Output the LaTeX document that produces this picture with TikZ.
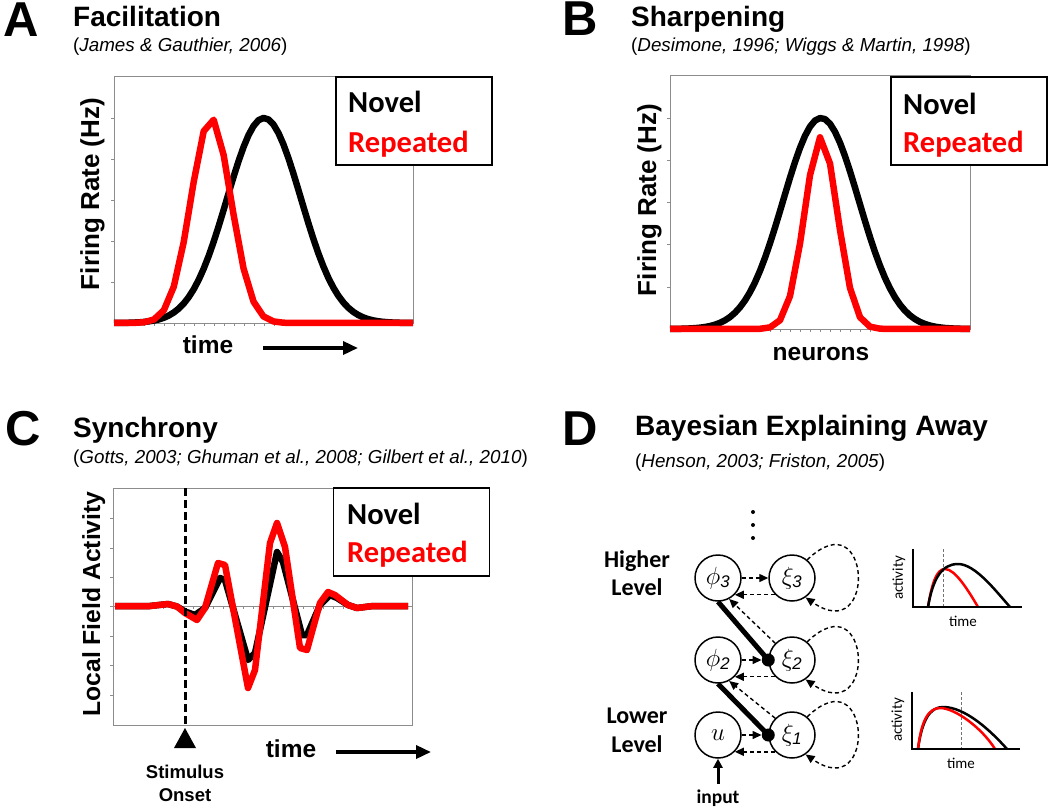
\documentclass[tikz,border=0pt]{standalone}
\usepackage{fontspec}
\setmainfont{Liberation Sans}
\newfontfamily\calibri{Carlito}
\usetikzlibrary{arrows.meta}

\tikzstyle{panelletter} = [anchor=base west, inner sep=0,
font=\fontsize{49}{49}\selectfont\bfseries]
\tikzstyle{paneltitle} = [anchor=base west, inner sep=0,
font=\fontsize{28}{28}\selectfont\bfseries]
\tikzstyle{citation} = [anchor=base west, inner sep=0,
font=\fontsize{18.8}{18.8}\selectfont]
\tikzstyle{axislabel} = [anchor=base, inner sep=0, rotate=90,
font=\fontsize{26}{26}\selectfont\bfseries]
\tikzstyle{xlabel} = [anchor=base, inner sep=0,
font=\fontsize{24.5}{24.5}\selectfont\bfseries]
\tikzstyle{onsetlabel} = [anchor=base, inner sep=0,
font=\fontsize{18.5}{18.5}\selectfont\bfseries]
\tikzstyle{frame} = [draw=black!45, line width=1]
\tikzstyle{tick} = [draw=black!45, line width=0.8]
\tikzstyle{legbox} = [rectangle, draw=black, line width=1.6, fill=white,
minimum width=156, minimum height=88, inner sep=0]
\tikzstyle{legtext} = [anchor=base west, inner sep=0,
font=\calibri\fontsize{30.5}{30.5}\selectfont\bfseries]
\tikzstyle{novelline} = [line width=6.5, black, line join=round]
\tikzstyle{repline} = [line width=6.5, red, line join=round]
\tikzstyle{timearrow} = [line width=3.5, -{Triangle[length=15, width=13]}]
\tikzstyle{onsetline} = [line width=3, dash pattern=on 8 off 4]
% panel D
\tikzstyle{unit} = [circle, draw, line width=1.5, minimum size=46, inner sep=0,
font=\fontsize{24}{24}\selectfont]
\tikzstyle{junction} = [circle, fill, inner sep=0, minimum size=13]
\tikzstyle{msg} = [line width=1.4, dash pattern=on 4 off 3,
-{Triangle[length=9, width=8]}]
\tikzstyle{pred} = [line width=5]
\tikzstyle{inarrow} = [line width=3, -{Triangle[length=9, width=9]}]
\tikzstyle{levellabel} = [anchor=base, inner sep=0,
font=\calibri\fontsize{24}{24}\selectfont\bfseries]
\tikzstyle{smallaxis} = [line width=2.5]
\tikzstyle{marker} = [line width=1, black!55, dash pattern=on 3 off 2]
\tikzstyle{smallcurve} = [line width=2.5]
\tikzstyle{minilabel} = [inner sep=0, font=\calibri\fontsize{15}{15}\selectfont]

\begin{document}
\begin{tikzpicture}[x=1pt, y=-1pt]
\useasboundingbox (0,0) rectangle (1050,808);

% A: facilitation
\node (letA) [panelletter] at (3,37) {A};
\node (titA) [paneltitle] at (73,27) {Facilitation};
\node (citA) [citation] at (73,52) {(\textit{James \& Gauthier, 2006})};
\draw [frame] (114,77) rectangle (413,323);
\foreach \ty in {118,159,200,241,282} \draw [tick] (111,\ty) -- (114,\ty);
\foreach \tx in {124,134,...,404} \draw [tick] (\tx,323) -- (\tx,326);
\draw [novelline] plot [domain=114:413, samples=61]
  (\x, {323-205*exp(-((\x-264)/37)*((\x-264)/37)/2)});
\draw [repline] plot [domain=114:413, samples=31]
  (\x, {323-205*exp(-min(12,((\x-211)/20)*((\x-211)/20)/2))});
\node (legA) [legbox] at (414,121) {};
\node (novA) [legtext] at (348,113) {Novel};
\node (repA) [legtext, text=red] at (348,152) {Repeated};
\node (ylabA) [axislabel] at (99,194) {Firing Rate (Hz)};
\node (timeA) [xlabel] at (208,353) {time};
\coordinate (tA1) at (263,348);
\coordinate (tA2) at (358,348);
\draw [timearrow] (tA1) -- (tA2);

% B: sharpening
\node (letB) [panelletter] at (562,36) {B};
\node (titB) [paneltitle] at (631,27) {Sharpening};
\node (citB) [citation] at (631,52) {(\textit{Desimone, 1996; Wiggs \& Martin, 1998})};
\draw [frame] (670,76) rectangle (970,329);
\foreach \ty in {118,160,202,244,287} \draw [tick] (667,\ty) -- (670,\ty);
\foreach \tx in {680,690,...,960} \draw [tick] (\tx,329) -- (\tx,332);
\draw [novelline] plot [domain=670:970, samples=61]
  (\x, {329-211*exp(-((\x-821)/38)*((\x-821)/38)/2)});
\draw [repline] plot [domain=670:970, samples=31]
  (\x, {329-192*exp(-min(12,((\x-821)/16.5)*((\x-821)/16.5)/2))});
\node (legB) [legbox] at (969,121) {};
\node (novB) [legtext] at (903,114) {Novel};
\node (repB) [legtext, text=red] at (903,152) {Repeated};
\node (ylabB) [axislabel] at (656,200) {Firing Rate (Hz)};
\node (neurB) [xlabel] at (821,360) {neurons};

% C: synchrony
\node (letC) [panelletter] at (5,445) {C};
\node (titC) [paneltitle] at (73,437) {Synchrony};
\node (citC) [citation] at (73,463) {(\textit{Gotts, 2003; Ghuman et al., 2008; Gilbert et al., 2010})};
\draw [frame] (113,488) rectangle (412,725);
\draw [tick] (113,606) -- (412,606);
\foreach \ty in {518,548,577,606,636,665,695} \draw [tick] (110,\ty) -- (113,\ty);
\foreach \tx in {123,133,...,403} \draw [tick] (\tx,606) -- (\tx,609);
\draw [novelline] plot coordinates {(115,606) (150,606) (168,604) (177,606.5)
  (185,611.5) (195,615) (205,608) (220,578) (225,580) (248,660) (255,653)
  (277,552) (283,562) (302,635) (307,635) (320,605) (330,595) (337,598)
  (348,605) (357,608) (373,606) (408,606)};
\draw [repline] plot coordinates {(115,606) (150,606) (168,604) (177,606.5)
  (185,613) (197,620) (205,608) (218,563) (225,565) (248,688) (255,670)
  (270,543) (277,523) (285,547) (300,648) (307,650) (320,603) (328,592)
  (335,595) (348,605) (357,608) (373,606) (408,606)};
\node (legC) [legbox] at (411.5,532) {};
\node (novC) [legtext] at (347,524) {Novel};
\node (repC) [legtext, text=red] at (347,562) {Repeated};
\node (ylabC) [axislabel, font=\fontsize{24.7}{24.7}\selectfont\bfseries] at (100,604) {Local Field Activity};
\coordinate (onsTop) at (185,488);
\coordinate (onsBot) at (185,726);
\draw [onsetline] (onsTop) -- (onsBot);
\fill (185,728) -- (174,748) -- (196,748) -- cycle;
\node (stimC) [onsetlabel] at (185,778) {Stimulus};
\node (onsC) [onsetlabel] at (185,801) {Onset};
\node (timeC) [xlabel] at (291,757) {time};
\coordinate (tC1) at (336,752);
\coordinate (tC2) at (431,752);
\draw [timearrow] (tC1) -- (tC2);

% D: bayesian explaining away
\node (letD) [panelletter] at (562,445) {D};
\node (titD) [paneltitle] at (635,435) {Bayesian Explaining Away};
\node (citD) [citation] at (635,467) {(\textit{Henson, 2003; Friston, 2005})};
\foreach \dy in {512,525,538} \fill (753,\dy) circle [radius=2];
\node (hig1) [levellabel] at (637,567) {Higher};
\node (hig2) [levellabel] at (637,595) {Level};
\node (low1) [levellabel] at (637,723) {Lower};
\node (low2) [levellabel] at (637,752) {Level};
\node (phi3) [unit] at (718,578) {$\phi_{\mathit{3}}$};
\node (xi3) [unit] at (792,578) {$\xi_{\mathit{3}}$};
\node (phi2) [unit] at (718,660) {$\phi_{\mathit{2}}$};
\node (xi2) [unit] at (792,660) {$\xi_{\mathit{2}}$};
\node (u) [unit] at (718,735) {$u$};
\node (xi1) [unit] at (792,735) {$\xi_{\mathit{1}}$};
\node (j2) [junction] at (xi2.west) {};
\node (j1) [junction] at (xi1.west) {};
\node (inp) [levellabel, font=\calibri\fontsize{19.5}{19.5}\selectfont\bfseries] at (718,803) {input};
\draw [msg] (phi3.east) -- (xi3.west);
\draw [msg] (xi3.225) -- (phi3.-45);
\draw [msg] (xi2.135) -- (phi3.-62);
\draw [pred] (phi3.south) -- (j2.center);
\draw [msg] (phi2.east) -- (j2.west);
\draw [msg] (xi2.225) -- (phi2.-45);
\draw [msg] (xi1.135) -- (phi2.-62);
\draw [pred] (phi2.south) -- (j1.center);
\draw [msg] (u.east) -- (j1.west);
\draw [msg] (xi1.225) -- (u.-45);
\draw [msg] (xi3.50) .. controls +(64,-62) and +(72,50) .. (xi3.-55);
\draw [msg] (xi2.50) .. controls +(64,-62) and +(72,50) .. (xi2.-55);
\draw [msg] (xi1.50) .. controls +(64,-62) and +(72,50) .. (xi1.-55);
\draw [inarrow] ([yshift=5pt]inp.north) -- (u.south);

% small plots
\draw [marker] (943,549) -- (943,607);
\draw [smallcurve, red] (928,607) .. controls (932,582) and (937,569) .. (945,569)
  .. controls (955,569) and (968,590) .. (978,607);
\draw [smallcurve] (928,607) .. controls (933,578) and (942,564) .. (958,564)
  .. controls (975,564) and (995,590) .. (1010,607);
\draw [smallaxis] (913,549) -- (913,607) -- (1022,607);
\node (actT) [minilabel, rotate=90] at (899,578) {activity};
\node (timT) [minilabel] at (963,621) {time};

\draw [marker] (961,692) -- (961,749);
\draw [smallcurve] (918,749) .. controls (922,720) and (930,707) .. (943,707)
  .. controls (965,707) and (990,730) .. (1007,749);
\draw [smallcurve, red] (918,749) .. controls (921,722) and (928,708) .. (940,708)
  .. controls (955,708) and (982,728) .. (995,749);
\draw [smallaxis] (912,692) -- (912,749) -- (1020,749);
\node (actB) [minilabel, rotate=90] at (898,720) {activity};
\node (timB) [minilabel] at (961,763) {time};
\end{tikzpicture}
\end{document}
